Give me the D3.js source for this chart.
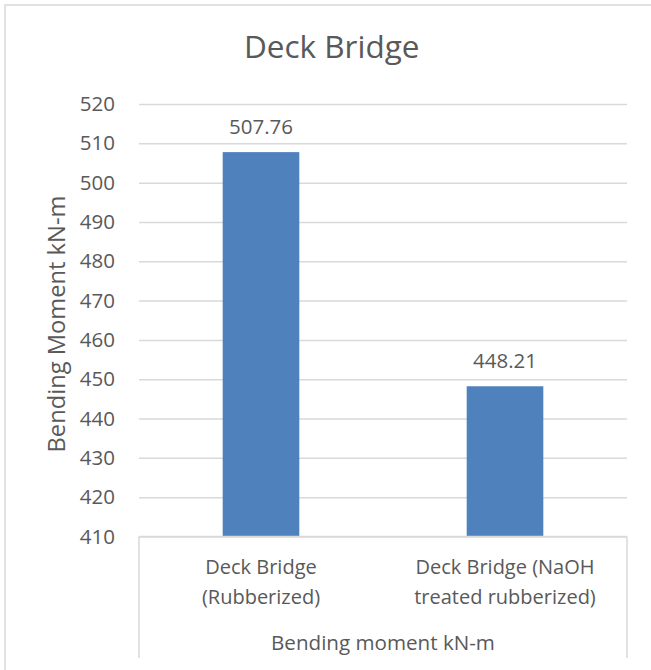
<!DOCTYPE html>
<html>
<head>
<meta charset="utf-8">
<script src="https://cdn.jsdelivr.net/npm/d3@7"></script>
<style>
  html, body { margin: 0; padding: 0; background: #fff; }
  svg { display: block; font-family: "Open Sans", sans-serif; }
</style>
</head>
<body>
<script>
const categories = ["Deck Bridge (Rubberized)", "Deck Bridge (NaOH treated rubberized)"];
const categoryLines = [["Deck Bridge", "(Rubberized)"], ["Deck Bridge (NaOH", "treated rubberized)"]];
const values = [507.76, 448.21];
const valueLabels = ["507.76", "448.21"];
const yTicks = [410, 420, 430, 440, 450, 460, 470, 480, 490, 500, 510, 520];
const chartTitle = "Deck Bridge";
const yTitle = "Bending Moment kN-m";
const xTitle = "Bending moment kN-m";

(function () {
const W = 651, H = 670;
const plotLeft = 139, plotRight = 627, plotTop = 104, plotBottom = 536.5;
const textColor = "#595959";
const gridColor = "#d9d9d9";
const barColor = "#4f81bd";

const svg = d3.select("body").append("svg").attr("width", W).attr("height", H);

// outer chart border
svg.append("rect").attr("x", 5).attr("y", 5).attr("width", W + 10).attr("height", H + 10)
  .attr("fill", "#fff").attr("stroke", gridColor).attr("stroke-width", 1.5);

const y = d3.scaleLinear().domain([410, 520]).range([plotBottom, plotTop]);
const x = d3.scaleBand().domain(categories).range([plotLeft, plotRight]).paddingInner(0.686).paddingOuter(0.343);

// gridlines + tick labels
const yAxis = d3.axisLeft(y).tickValues(yTicks).tickSize(-(plotRight - plotLeft)).tickPadding(24).tickFormat(d3.format("d"));
const gy = svg.append("g").attr("transform", `translate(${plotLeft},0)`).call(yAxis);
gy.select(".domain").remove();
gy.selectAll(".tick line").attr("stroke", gridColor).attr("stroke-width", 1.5);
gy.selectAll(".tick text").attr("fill", textColor).style("font-size", "20.5px").style("font-family", "'Open Sans', sans-serif");

// bars
svg.append("g").selectAll("rect").data(values).join("rect")
  .attr("x", (d, i) => x(categories[i]))
  .attr("width", x.bandwidth())
  .attr("y", d => y(d))
  .attr("height", d => y(410) - y(d))
  .attr("fill", barColor);

// data labels
svg.append("g").selectAll("text").data(values).join("text")
  .attr("x", (d, i) => x(categories[i]) + x.bandwidth() / 2)
  .attr("y", d => y(d) - 18.5)
  .attr("text-anchor", "middle")
  .attr("fill", textColor)
  .style("font-size", "20.5px")
  .text((d, i) => valueLabels[i]);

// category axis box
const axisBottom = 658;
svg.append("line").attr("x1", plotLeft).attr("x2", plotRight).attr("y1", plotBottom).attr("y2", plotBottom)
  .attr("stroke", gridColor).attr("stroke-width", 1.5);
svg.append("line").attr("x1", plotLeft).attr("x2", plotLeft).attr("y1", plotBottom).attr("y2", axisBottom)
  .attr("stroke", gridColor).attr("stroke-width", 1.5);
svg.append("line").attr("x1", plotRight).attr("x2", plotRight).attr("y1", plotBottom).attr("y2", axisBottom)
  .attr("stroke", gridColor).attr("stroke-width", 1.5);

// category labels
const catG = svg.append("g").selectAll("text").data(categories).join("text")
  .attr("text-anchor", "middle")
  .attr("fill", textColor)
  .style("font-size", "20px");
catG.each(function (d, i) {
  const t = d3.select(this);
  categoryLines[i].forEach((ln, k) => {
    t.append("tspan").attr("x", x(d) + x.bandwidth() / 2).attr("y", 573.5 + k * 30.5).text(ln);
  });
});

// x axis title
svg.append("text").attr("x", (plotLeft + plotRight) / 2).attr("y", 650)
  .attr("text-anchor", "middle").attr("fill", textColor).style("font-size", "20.6px").text(xTitle);

// chart title
svg.append("text").attr("x", 331.7).attr("y", 58.3)
  .attr("text-anchor", "middle").attr("fill", textColor).style("font-size", "31.5px").text(chartTitle);

// y axis title
svg.append("text").attr("transform", "translate(65,324) rotate(-90)")
  .attr("text-anchor", "middle").attr("fill", textColor).style("font-size", "23.7px").text(yTitle);
})();
</script>
</body>
</html>
